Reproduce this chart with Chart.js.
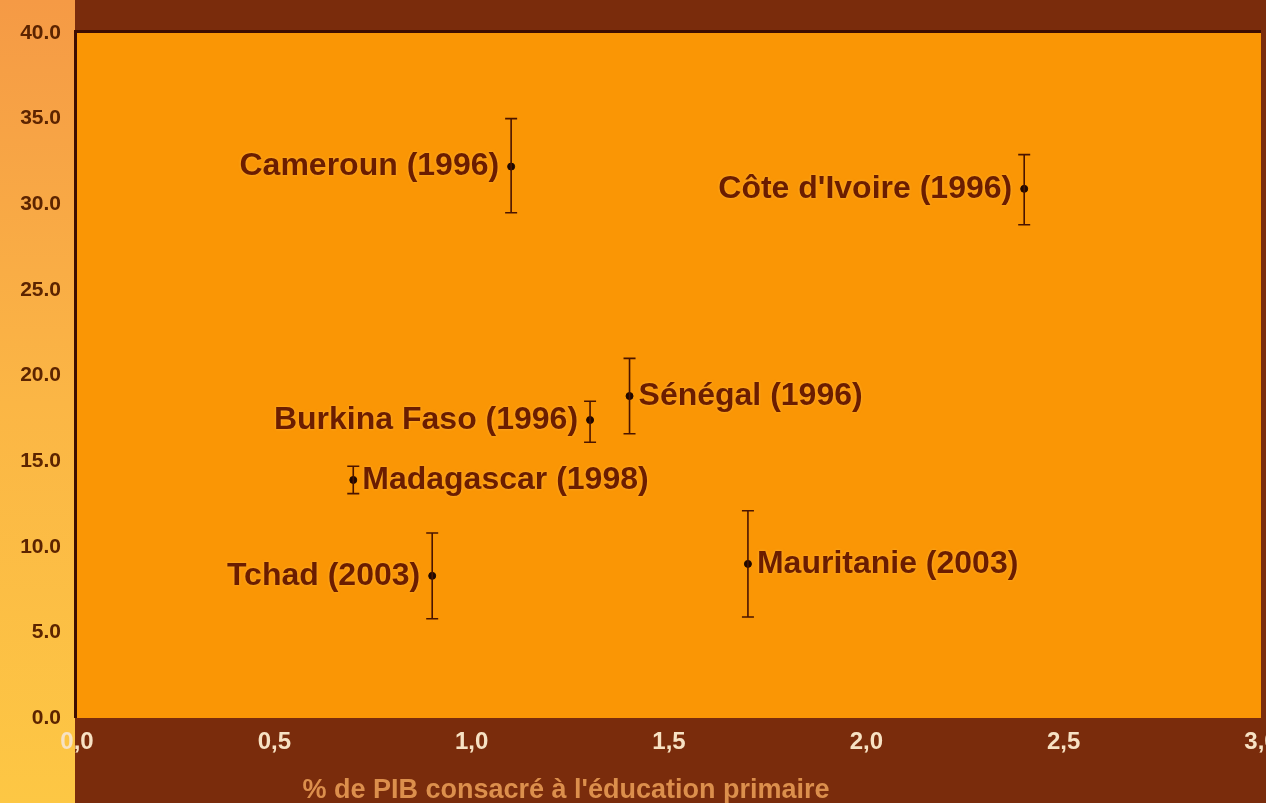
<!DOCTYPE html>
<html>
<head>
<meta charset="utf-8">
<script src="https://cdn.jsdelivr.net/npm/chart.js@4.4.1/dist/chart.umd.min.js"></script>
<style>
  html,body{margin:0;padding:0;background:#7a2c0c;}
  #wrap{position:relative;width:1266px;height:803px;}
</style>
</head>
<body>
<div id="wrap"><canvas id="c" width="1266" height="803"></canvas></div>
<script>
// data
const countries = ['Cameroun (1996)','Côte d\'Ivoire (1996)','Sénégal (1996)','Burkina Faso (1996)','Madagascar (1998)','Tchad (2003)','Mauritanie (2003)'];
const gdpShare  = [1.10, 2.40, 1.40, 1.30, 0.70, 0.90, 1.70];
const values    = [32.2, 30.9, 18.8, 17.4, 13.9, 8.3, 9.0];
const lowValues = [29.5, 28.8, 16.6, 16.1, 13.1, 5.8, 5.9];
const highValues= [35.0, 32.9, 21.0, 18.5, 14.7, 10.8, 12.1];
const labelSide = ['left','left','right','left','right','left','right'];
const xTitle = '% de PIB consacré à l\'éducation primaire';

const points = gdpShare.map((x,i)=>({ x, y: values[i] }));

const backdrop = {
  id:'backdrop',
  beforeDraw(chart){
    const {ctx, chartArea:a, width, height} = chart;
    ctx.save();
    ctx.fillStyle = '#7a2c0c';
    ctx.fillRect(0,0,width,height);
    const g = ctx.createLinearGradient(0,0,0,height);
    g.addColorStop(0,'#f59a45');
    g.addColorStop(0.5,'#fbb645');
    g.addColorStop(1,'#fdc744');
    ctx.fillStyle = g;
    ctx.fillRect(0,0,a.left-2,height);
    ctx.fillStyle = '#fa9605';
    ctx.fillRect(a.left,a.top,a.right-a.left,a.bottom-a.top);
    ctx.fillStyle = '#3e0d00';
    ctx.fillRect(a.left-3,a.top-3,a.right-a.left+3,3);
    ctx.fillRect(a.left-3,a.top-3,3,a.bottom-a.top+3);
    ctx.restore();
  }
};

const errorBars = {
  id:'errorBars',
  afterDatasetsDraw(chart){
    const {ctx, scales:{x,y}} = chart;
    ctx.save();
    ctx.strokeStyle = '#4a1400';
    ctx.lineWidth = 1.6;
    gdpShare.forEach((v,i)=>{
      const px = x.getPixelForValue(v);
      const top = y.getPixelForValue(highValues[i]);
      const bot = y.getPixelForValue(lowValues[i]);
      ctx.beginPath();
      ctx.moveTo(px,top); ctx.lineTo(px,bot);
      ctx.moveTo(px-6,top); ctx.lineTo(px+6,top);
      ctx.moveTo(px-6,bot); ctx.lineTo(px+6,bot);
      ctx.stroke();
    });
    // country labels
    ctx.font = 'bold 32px "Liberation Sans", Arial, sans-serif';
    ctx.textBaseline = 'middle';
    ctx.fillStyle = '#6b1d00';
    ctx.shadowColor = 'rgba(255,200,90,0.6)';
    ctx.shadowBlur = 3;
    countries.forEach((name,i)=>{
      const px = x.getPixelForValue(gdpShare[i]);
      const py = y.getPixelForValue(values[i]);
      if (labelSide[i]==='left'){ ctx.textAlign='right'; ctx.fillText(name, px-12, py); }
      else { ctx.textAlign='left'; ctx.fillText(name, px+9, py); }
    });
    ctx.restore();
  }
};

const axisTitle = {
  id:'axisTitle',
  afterDraw(chart){
    const {ctx} = chart;
    ctx.save();
    ctx.font = 'bold 27px "Liberation Sans", Arial, sans-serif';
    ctx.fillStyle = '#dc8f4c';
    ctx.textAlign = 'center';
    ctx.textBaseline = 'middle';
    ctx.fillText(xTitle, 566, 791);
    ctx.restore();
  }
};

new Chart(document.getElementById('c'), {
  type:'scatter',
  data:{ datasets:[{ data: points, backgroundColor:'#1f0800', borderColor:'#1f0800', pointRadius:3.5, pointStyle:'circle' }] },
  options:{
    responsive:false, animation:false,
    layout:{ padding:{ top:33, right:3, left:0, bottom:0 } },
    plugins:{ legend:{ display:false }, tooltip:{ enabled:false } },
    scales:{
      x:{
        type:'linear', min:0, max:3,
        afterFit:(s)=>{ s.height = 85; s.paddingRight = 0; s.paddingLeft = 0; },
        grid:{ display:false, drawTicks:false },
        border:{ display:false },
        ticks:{ stepSize:0.5, padding:10, color:'#f7e2c4', font:{ family:'"Liberation Sans", Arial, sans-serif', size:24, weight:'bold' },
          callback:(v)=> Number(v).toFixed(1).replace('.',',') }
      },
      y:{
        type:'linear', min:0, max:40,
        afterFit:(s)=>{ s.width = 77; s.paddingTop = 0; s.paddingBottom = 0; },
        grid:{ display:false, drawTicks:false },
        border:{ display:false },
        ticks:{ stepSize:5, padding:16, color:'#5c2400', font:{ family:'"Liberation Sans", Arial, sans-serif', size:21, weight:'bold' },
          callback:(v)=> Number(v).toFixed(1) }
      }
    }
  },
  plugins:[backdrop, errorBars, axisTitle]
});
</script>
</body>
</html>
